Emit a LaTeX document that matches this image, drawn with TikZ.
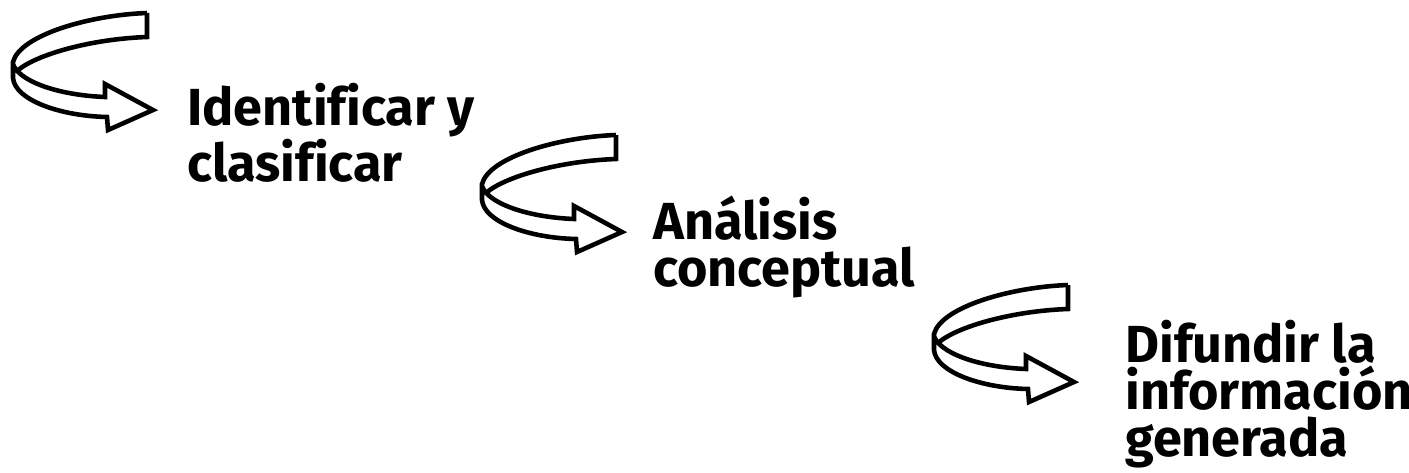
\documentclass[tikz,border=0pt]{standalone}
\usepackage{fontspec}
\setmainfont{Fira Sans}[Ligatures=NoCommon]
\begin{document}
\begin{tikzpicture}[x=0.02cm,y=-0.02cm,
  steptext/.style={anchor=base west,align=left,inner sep=0pt,
    font=\bfseries\fontsize{29.7}{26.7}\selectfont},
  turnarrow/.pic={
    \draw[line width=2.6pt] (147,13) .. controls (90,15) and (20,35) .. (13,62)
      -- (13,78) .. controls (15,100) and (60,116) .. (107,117)
      -- (108,130) -- (153,110) -- (105,84) -- (105,97)
      .. controls (55,95) and (18,80) .. (13,64);
    \draw[line width=2.6pt] (147,13) -- (147,37)
      .. controls (90,39) and (35,55) .. (17,71);
  }]
  \useasboundingbox (0,0) rectangle (1409,473);
  \pic at (0,0) {turnarrow};
  \pic at (469,122) {turnarrow};
  \pic at (921,272) {turnarrow};
  % base anchor sits on the last line
  \node[steptext] (ident) at (187,181) {Identificar y\\clasificar};
  \node[steptext] (anal) at (653,286) {Análisis\\conceptual};
  \node[steptext] (difu) at (1125,456) {Difundir la\\información\\generada};
\end{tikzpicture}
\end{document}
